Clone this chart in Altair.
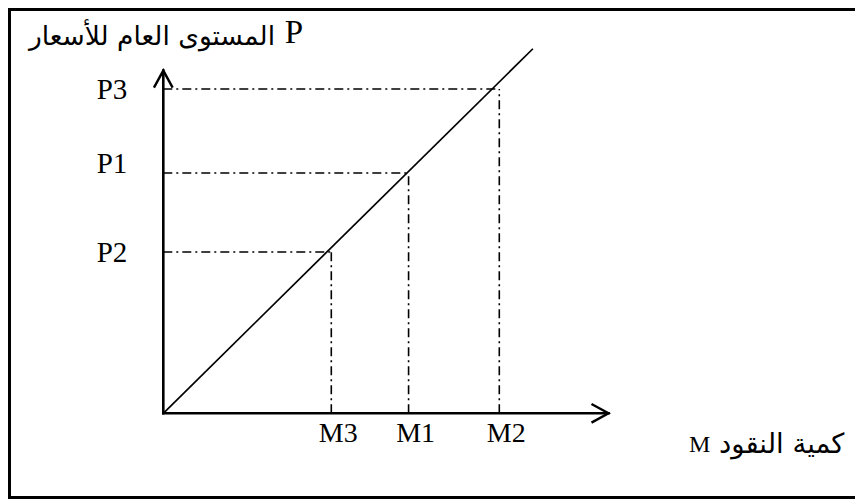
import altair as alt
import pandas as pd

# ---- chart values (data units) ----
m_labels = ["M3", "M1", "M2"]
m_values = [5.0, 7.3, 10.0]
p_labels = ["P2", "P1", "P3"]
p_values = [4.8, 7.15, 9.65]
line_x = [0.0, 11.0]
line_y = [0.0, 10.85]
x_axis_end = 13.25
y_axis_end = 10.2

y_title_ar = "المستوى العام للأسعار"
y_title_lat = "P"
x_title_ar = "كمية النقود"
x_title_lat = "M"

# ---- layout / style ----
U = 33.6              # pixels per data unit
W, H = 847, 491       # plot area (page offset 8,8)
OX, OT = 155.3, 405.3  # origin offset from left / top of plot area
xs = alt.Scale(domain=[-OX / U, (W - OX) / U], nice=False, zero=False)
ys = alt.Scale(domain=[-(H - OT) / U, OT / U], nice=False, zero=False)
SERIF = "Liberation Serif"
ARAB = "DejaVu Sans"
DASH = [9, 4, 2, 4]

pairs = pd.DataFrame({"M": m_values, "P": p_values, "m_label": m_labels,
                      "p_label": p_labels, "zero": [0.0] * 3})
diag = pd.DataFrame({"x": line_x, "y": line_y})
axes = pd.DataFrame({"x": [0.0, 0.0], "x2": [x_axis_end, 0.0],
                     "y": [0.0, 0.0], "y2": [0.0, y_axis_end]})
tips = pd.DataFrame({"x": [x_axis_end], "y": [y_axis_end], "zero": [0.0]})
one = pd.DataFrame({"k": [0]})

X = lambda f: alt.X(f, scale=xs, axis=None)
Y = lambda f: alt.Y(f, scale=ys, axis=None)

# frame (top, bottom, left)
frame_top = alt.Chart(one).mark_rule(color="black", strokeWidth=3).encode(
    x=alt.value(0), x2=alt.value(W), y=alt.value(1.5))
frame_bot = alt.Chart(one).mark_rule(color="black", strokeWidth=3).encode(
    x=alt.value(0), x2=alt.value(W), y=alt.value(H - 1.5))
frame_left = alt.Chart(one).mark_rule(color="black", strokeWidth=3).encode(
    x=alt.value(1.5), y=alt.value(0), y2=alt.value(H))

hdash = alt.Chart(pairs).mark_rule(color="black", strokeWidth=1.6, strokeDash=DASH).encode(
    x=X("zero:Q"), x2="M:Q", y=Y("P:Q"))
vdash = alt.Chart(pairs).mark_rule(color="black", strokeWidth=1.6, strokeDash=DASH).encode(
    x=X("M:Q"), y=Y("zero:Q"), y2="P:Q")
line = alt.Chart(diag).mark_line(color="black", strokeWidth=1.7).encode(
    x=X("x:Q"), y=Y("y:Q"))
axis_rules = alt.Chart(axes).mark_rule(color="black", strokeWidth=2.6, strokeCap="square").encode(
    x=X("x:Q"), x2="x2:Q", y=Y("y:Q"), y2="y2:Q")
x_tip = alt.Chart(tips).mark_point(shape="M-1,-0.55L0,0L-1,0.55", filled=False, size=1156,
                                   color="black", strokeWidth=2.4, opacity=1).encode(
    x=X("x:Q"), y=Y("zero:Q"))
y_tip = alt.Chart(tips).mark_point(shape="M-0.55,1L0,0L0.55,1", filled=False, size=1156,
                                   color="black", strokeWidth=2.4, opacity=1).encode(
    x=X("zero:Q"), y=Y("y:Q"))

p_text_mid = alt.Chart(pairs).transform_filter(alt.datum.p_label != "P1").mark_text(
    font=SERIF, fontSize=29, align="right", baseline="alphabetic", dx=-36, dy=10, color="black").encode(
    x=X("zero:Q"), y=Y("P:Q"), text="p_label:N")
p_text_up = alt.Chart(pairs).transform_filter(alt.datum.p_label == "P1").mark_text(
    font=SERIF, fontSize=29, align="right", baseline="alphabetic", dx=-36, dy=0, color="black").encode(
    x=X("zero:Q"), y=Y("P:Q"), text="p_label:N")
m_text = alt.Chart(pairs).mark_text(
    font=SERIF, fontSize=28, align="center", baseline="alphabetic", dx=7, dy=29, color="black").encode(
    x=X("M:Q"), y=Y("zero:Q"), text="m_label:N")

ytl = alt.Chart(one).mark_text(
    font=SERIF, fontSize=33, align="right", baseline="alphabetic", color="black", text=y_title_lat).encode(
    x=alt.value(295), y=alt.value(35))
yta = alt.Chart(one).mark_text(
    font=ARAB, fontSize=26.5, align="right", baseline="alphabetic", color="black", text=y_title_ar).encode(
    x=alt.value(267), y=alt.value(37))
xtl = alt.Chart(one).mark_text(
    font=SERIF, fontSize=24, align="left", baseline="alphabetic", color="black", text=x_title_lat).encode(
    x=alt.value(681), y=alt.value(444))
xta = alt.Chart(one).mark_text(
    font=ARAB, fontSize=27.5, align="left", baseline="alphabetic", color="black", text=x_title_ar).encode(
    x=alt.value(711), y=alt.value(445))

chart = alt.layer(frame_top, frame_bot, frame_left, hdash, vdash, line, axis_rules, x_tip, y_tip,
                  p_text_mid, p_text_up, m_text, ytl, yta, xtl, xta).properties(
    width=W, height=H,
    padding=0,
    autosize=alt.AutoSizeParams(type="none"),
    background="white",
).configure_view(stroke=None)

chart.save("out.html", embed_options={"renderer": "svg", "actions": False})
